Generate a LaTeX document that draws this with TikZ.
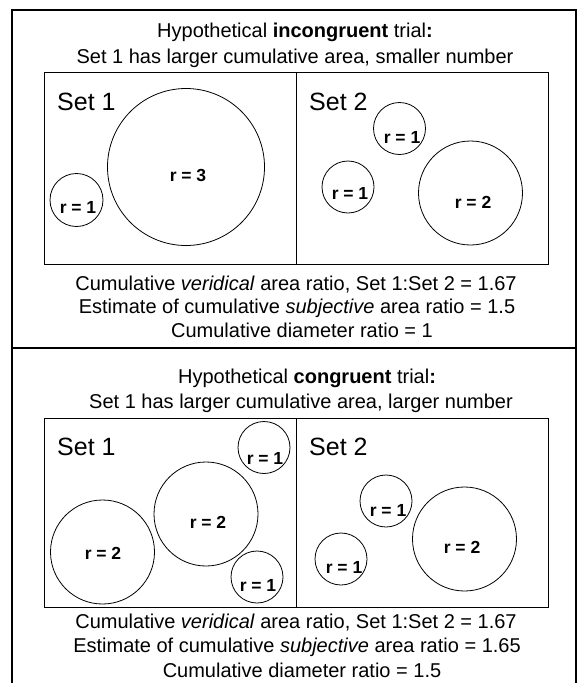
\documentclass[tikz,border=0pt]{standalone}
\usepackage{fontspec}
\setmainfont{Liberation Sans}
\begin{document}
\begin{tikzpicture}[x=1pt,y=-1pt,
  frame/.style={line width=2.6pt},
  setbox/.style={line width=1pt},
  dot/.style={circle,draw,line width=0.8pt,inner sep=0pt},
  lbl/.style={font=\fontsize{17.5}{19}\selectfont\bfseries,inner sep=0pt},
  setlbl/.style={font=\fontsize{25}{28}\selectfont,anchor=base west,inner sep=0pt},
  txt/.style={font=\fontsize{20}{22}\selectfont,anchor=base,inner sep=0pt}]
\useasboundingbox (0,0) rectangle (579,683);
% outer frame
\coordinate (fbl) at (12,684);
\coordinate (ftl) at (12,10);
\coordinate (ftr) at (576,10);
\coordinate (fbr) at (576,684);
\coordinate (sl) at (12,348);
\coordinate (sr) at (576,348);
\draw[frame] (fbl) -- (ftl) -- (ftr) -- (fbr);
\draw[frame] (sl) -- (sr);

% ---------- top panel ----------
\node[txt] (t1) at (295,37) {Hypothetical \textbf{incongruent} trial\textbf{:}};
\node[txt] (t2) at (295,63) {Set 1 has larger cumulative area, smaller number};
\coordinate (b1a) at (44,72);
\coordinate (b1b) at (548,264);
\draw[setbox] (b1a) rectangle (b1b);
\coordinate (d1a) at (296,72);
\coordinate (d1b) at (296,264);
\draw[setbox] (d1a) -- (d1b);
\node[setlbl] (s11) at (57,110) {Set 1};
\node[setlbl] (s12) at (309,110) {Set 2};
\node[dot,minimum size=53pt] (ca) at (76.5,200) {};
\node[lbl] (la) at (78,207) {r = 1};
\node[dot,minimum size=157pt] (cb) at (186,167) {};
\node[lbl] (lb) at (188,175) {r = 3};
\node[dot,minimum size=52pt] (cc) at (399.5,128.5) {};
\node[lbl] (lc) at (402,137) {r = 1};
\node[dot,minimum size=52pt] (cd) at (348,187) {};
\node[lbl] (ld) at (350,193) {r = 1};
\node[dot,minimum size=104pt] (ce) at (470.5,193) {};
\node[lbl] (le) at (473,202) {r = 2};
\node[txt] (u1) at (296,290) {Cumulative \textit{veridical} area ratio, Set 1:Set 2 = 1.67};
\node[txt] (u2) at (297,313) {Estimate of cumulative \textit{subjective} area ratio = 1.5};
\node[txt] (u3) at (302,337) {Cumulative diameter ratio = 1};

% ---------- bottom panel ----------
\node[txt] (t3) at (307,383) {Hypothetical \textbf{congruent} trial\textbf{:}};
\node[txt] (t4) at (301,408) {Set 1 has larger cumulative area, larger number};
\coordinate (b2a) at (44,418);
\coordinate (b2b) at (548,607);
\draw[setbox] (b2a) rectangle (b2b);
\coordinate (d2a) at (296,418);
\coordinate (d2b) at (296,607);
\draw[setbox] (d2a) -- (d2b);
\node[setlbl] (s21) at (57,455) {Set 1};
\node[setlbl] (s22) at (309,455) {Set 2};
\node[dot,minimum size=52pt] (cf) at (264,447.5) {};
\node[lbl] (lf) at (265,458) {r = 1};
\node[dot,minimum size=104pt] (cg) at (206,514) {};
\node[lbl] (lg) at (208,522) {r = 2};
\node[dot,minimum size=104pt] (ch) at (102.5,552) {};
\node[lbl] (lh) at (103,553) {r = 2};
\node[dot,minimum size=52pt] (ci) at (257,577) {};
\node[lbl] (li) at (258,585) {r = 1};
\node[dot,minimum size=52pt] (cj) at (386,501) {};
\node[lbl] (lj) at (388,510) {r = 1};
\node[dot,minimum size=52pt] (ck) at (341,559) {};
\node[lbl] (lk) at (344,567) {r = 1};
\node[dot,minimum size=104pt] (cl) at (464.5,539) {};
\node[lbl] (ll) at (462,547) {r = 2};
\node[txt] (u4) at (296,628) {Cumulative \textit{veridical} area ratio, Set 1:Set 2 = 1.67};
\node[txt] (u5) at (297,652) {Estimate of cumulative \textit{subjective} area ratio = 1.65};
\node[txt] (u6) at (302,677) {Cumulative diameter ratio = 1.5};
\end{tikzpicture}
\end{document}
